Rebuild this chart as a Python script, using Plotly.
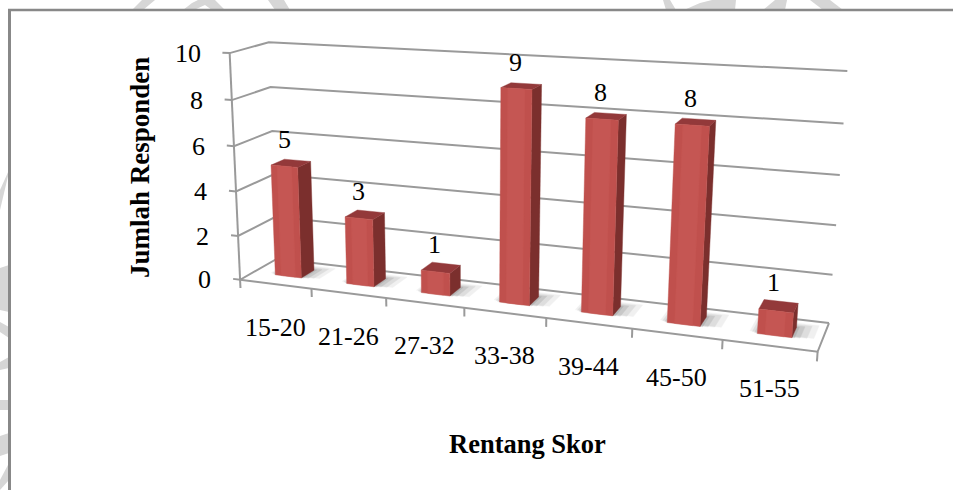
import numpy as np
import plotly.graph_objects as go

# ---- data ----
categories = ["15-20", "21-26", "27-32", "33-38", "39-44", "45-50", "51-55"]
respondents = [5, 3, 1, 9, 8, 8, 1]
value_ticks = [0, 2, 4, 6, 8, 10]
x_title = "Rentang Skor"
y_title = "Jumlah Responden"

# ---- oblique 3-D view of the chart box (category, depth, value) -> page ----
ROT = np.array([0.2678, 0.4026, 0.0426])
TRANS = np.array([-2.0909, 0.6913, 17.3881])
SCALE = np.array([1.0, 0.9738, 0.2845])
FOCAL, CX, CY = 1389.7, 407.2, 224.5
W, H = 953, 490
BAR_HALF, D0, D1 = 0.185, 0.35, 0.71

RED_FRONT, RED_LIGHT, RED_SIDE, RED_TOP = "#c0504d", "#c95a57", "#7b2f2d", "#93393a"
GRID = "#9a9a9a"
SERIF = "Liberation Serif"


def rotation(r):
    th = np.linalg.norm(r)
    k = r / th
    K = np.array([[0, -k[2], k[1]], [k[2], 0, -k[0]], [-k[1], k[0], 0]])
    return np.eye(3) + np.sin(th) * K + (1 - np.cos(th)) * K @ K


R = rotation(ROT) @ np.array([[1, 0, 0], [0, 0, -1], [0, 1, 0]], float)


def project(cat, depth, value):
    X = R @ (np.array([cat, depth, value], float) * SCALE) + TRANS
    return CX + FOCAL * X[0] / X[2], CY + FOCAL * X[1] / X[2]


fig = go.Figure()


def add_path(points, color=None, width=2, fill=None, opacity=1):
    xy = [project(*p) for p in points]
    xs, ys = zip(*xy)
    if fill:
        fig.add_trace(go.Scatter(x=xs + xs[:1], y=ys + ys[:1], mode="lines", fill="toself",
                                 fillcolor=fill, line=dict(color=fill, width=0.4),
                                 opacity=opacity, hoverinfo="skip", showlegend=False))
    else:
        fig.add_trace(go.Scatter(x=xs, y=ys, mode="lines", line=dict(color=color, width=width),
                                 hoverinfo="skip", showlegend=False))


n = len(categories)
top = value_ticks[-1]
# gridlines on side wall and back wall
for v in value_ticks:
    add_path([(-0.1, 0, v), (0, 0, v), (0, 1, v), (n, 1, v)], GRID)
# value axis and floor outline
add_path([(0, 0, 0), (0, 0, top)], GRID)
add_path([(n, 1, 0), (n, 0, 0), (0, 0, 0)], GRID)
for c in range(n + 1):
    add_path([(c, 0, 0), (c, 0, -0.38)], GRID)

# bars: soft floor shadow, then side, top and front faces
for c, v in enumerate(respondents):
    mid = c + 0.5
    l, r = mid - BAR_HALF, mid + BAR_HALF
    for e, op in [(0.16, 0.12), (0.11, 0.18), (0.06, 0.25), (0.02, 0.32)]:
        s = 1.4 * e
        add_path([(l - s * 0.4, D0 + e * 0.4, 0), (r + s, D0 + e * 0.4, 0),
                  (r + s, D1 + e, 0), (l - s * 0.4, D1 + e, 0)], fill="#8c8c8c", opacity=op)
    add_path([(r, D0, 0), (r, D1, 0), (r, D1, v), (r, D0, v)], fill=RED_SIDE)
    add_path([(l, D0, v), (r, D0, v), (r, D1, v), (l, D1, v)], fill=RED_TOP)
    add_path([(l, D0, 0), (r, D0, 0), (r, D0, v), (l, D0, v)], fill=RED_FRONT)
    m = BAR_HALF * 0.55
    add_path([(mid - m, D0, 0), (mid + m, D0, 0), (mid + m, D0, v), (mid - m, D0, v)], fill=RED_LIGHT, opacity=0.6)

annotations = []
for i, name in enumerate(categories):
    x, y = project(i + 0.5, 0, 0)
    annotations.append(dict(x=x, y=y, yshift=-43, text=name))
for v in value_ticks:
    x, y = project(0, 0, v)
    annotations.append(dict(x=x, y=y, xshift=-27, xanchor="right", text=str(v)))
for i, v in enumerate(respondents):
    x, y = project(i + 0.5, 0.5, v)
    annotations.append(dict(x=x, y=y, xshift=-5, yshift=24, text=str(v)))
for a in annotations:
    a.update(xref="x", yref="y", showarrow=False, font=dict(family=SERIF, size=26, color="black"))
annotations.append(dict(x=527, y=444, xref="x", yref="y", text=f"<b>{x_title}</b>", showarrow=False,
                        font=dict(family=SERIF, size=26.5, color="black")))
annotations.append(dict(x=140, y=168, xref="x", yref="y", text=f"<b>{y_title}</b>", showarrow=False, textangle=-90,
                        font=dict(family=SERIF, size=27, color="black")))

# scanned page: grey watermark fragments outside the white frame, and the frame itself
WATERMARK = ["M132 10 L143 10 L155 0 L142 0 Z", "M183 10 L192 3 L198 0 L215 0 L225 10 L212 10 L205 5 L194 10 Z",
             "M275 10 L290 10 L284 0 L268 0 Z", "M666 10 L676 10 L670 0 L663 0 Z",
             "M684 10 L700 3 L712 0 L736 0 L735 10 Z", "M763 10 L785 10 L787 0 L775 0 Z", "M823 10 L843 10 L830 0 L810 0 Z",
             "M0 210 L9 172 L9 170 L0 190 Z", "M0 268 L9 265 L9 312 L0 310 Z", "M0 322 L9 327 L9 338 L0 332 Z",
             "M0 362 L9 357 L9 368 L0 370 Z", "M0 400 L9 400 L9 410 L0 410 Z", "M0 436 L9 433 L9 453 L0 456 Z",
             "M0 480 L9 463 L9 480 L0 490 Z"]
shapes = [dict(type="path", path=p, xref="x", yref="y", fillcolor="#d6d6d6", line_width=0, layer="below") for p in WATERMARK]
shapes += [dict(type="line", x0=9.5, x1=9.5, y0=9, y1=H, xref="x", yref="y", line=dict(color="#888888", width=3), layer="below"),
           dict(type="line", x0=8, x1=W, y0=10, y1=10, xref="x", yref="y", line=dict(color="#888888", width=2.5), layer="below")]

fig.update_layout(width=W, height=H, margin=dict(l=0, r=0, t=0, b=0), paper_bgcolor="white", plot_bgcolor="white",
                  xaxis=dict(range=[0, W], visible=False, fixedrange=True),
                  yaxis=dict(range=[H, 0], visible=False, fixedrange=True),
                  showlegend=False, annotations=annotations, shapes=shapes)
fig.write_html("out.html", config={"displayModeBar": False}, post_script="document.body.style.margin='0';")
